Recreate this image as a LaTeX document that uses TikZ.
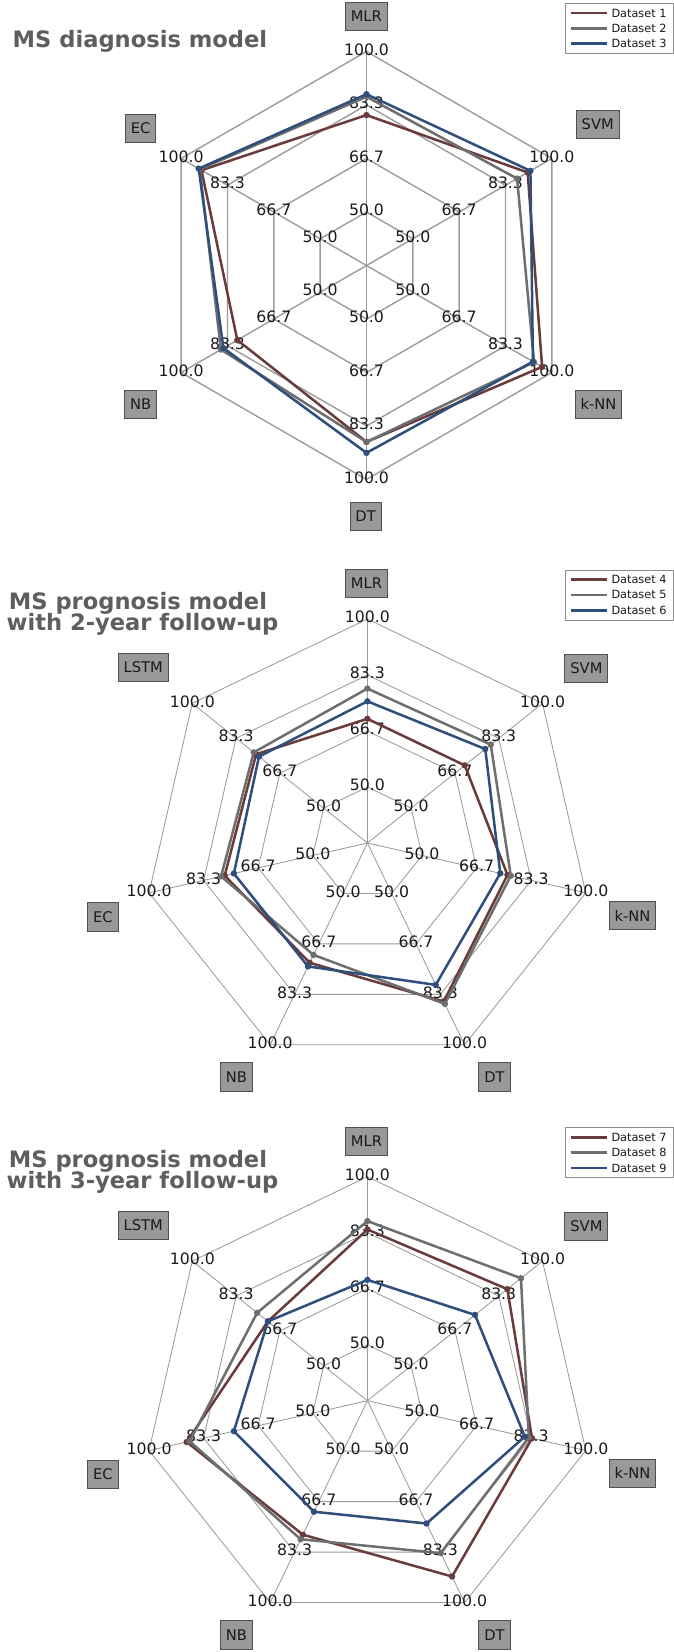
\documentclass[tikz,border=0pt]{standalone}
\usepackage{fontspec}
\setmainfont{DejaVu Sans}
\definecolor{serA}{HTML}{6B3A3A}
\definecolor{serB}{HTML}{6E6E6E}
\definecolor{serC}{HTML}{2E4E7C}
\definecolor{gridc}{HTML}{9C9C9C}
\definecolor{titlec}{HTML}{5E5E5E}
\definecolor{boxfill}{HTML}{999999}
\definecolor{boxdraw}{HTML}{505050}
\definecolor{txtc}{HTML}{1A1A1A}
\tikzset{
  gridA/.style={draw=gridc, line width=1.4pt},
  gridB/.style={draw=gridc, line width=0.85pt},
  vlab/.style={font=\fontsize{15.7}{16}\selectfont, text=txtc, inner sep=0pt, yshift=2pt},
  catbox/.style={draw=boxdraw, fill=boxfill, line width=0.9pt, font=\fontsize{14.7}{15}\selectfont, text=txtc, minimum height=28.3pt, inner xsep=5.5pt, inner ysep=0pt},
  ttl/.style={font=\fontsize{22.6}{23}\selectfont\bfseries, text=titlec, inner sep=0pt},
  legbox/.style={draw=gray!90, line width=0.9pt, fill=white, inner sep=0pt, anchor=north west, minimum width=108pt, minimum height=50pt},
  legtxt/.style={font=\fontsize{11.3}{12}\selectfont, text=txtc, inner sep=0pt, anchor=west},
  legline/.style={line width=2.7pt},
  serline/.style={line width=2.5pt, line join=round},
}
% #1 cx #2 cy #3 R #4 N #5 N-1 #6 style #7 prefix
\newcommand\radargrid[7]{%
  \coordinate (#7-o) at (#1,#2);
  \foreach \lev in {1,2,3,4}{
    \foreach \k in {0,...,#5}{
      \coordinate (#7-\k-\lev) at ({#1+#3*\lev/4*cos(90-\k*360/#4)},{#2-#3*\lev/4*sin(90-\k*360/#4)});
    }
    \draw[#6] (#7-0-\lev) \foreach \k in {1,...,#5}{ -- (#7-\k-\lev) } -- cycle;
  }
  \foreach \k in {0,...,#5}{ \draw[#6] (#7-o) -- (#7-\k-4); }
}
% #1 prefix #2 N-1
\newcommand\radarlabels[2]{%
  \foreach \lev/\txt in {1/50.0,2/66.7,3/83.3,4/100.0}{
    \foreach \k in {0,...,#2}{
      \node[vlab] (#1-l\k-\lev) at (#1-\k-\lev) {\txt};
    }
  }
}
% #1 cx #2 cy #3 R #4 N #5 N-1 #6 prefix #7 color #8 values
\newcommand\radarseries[8]{%
  \foreach \v [count=\k from 0] in {#8}{
    \coordinate (#6-\k) at ({#1+#3*(\v-33.333)/66.667*cos(90-\k*360/#4)},{#2-#3*(\v-33.333)/66.667*sin(90-\k*360/#4)});
  }
  \draw[serline, draw=#7] (#6-0) \foreach \k in {1,...,#5}{ -- (#6-\k) } -- cycle;
  \foreach \k in {0,...,#5}{ \fill[#7] (#6-\k) circle (3.2); }
}
% #1 top y #2 prefix #3 first dataset number
\newcommand\radarlegend[3]{%
  \node[legbox] (#2-box) at (565,#1) {};
  \foreach \i/\c in {0/serA,1/serB,2/serC}{
    \pgfmathtruncatemacro\num{#3+\i}
    \coordinate (#2-a\i) at (570.7,{#1+10+15.3*\i});
    \coordinate (#2-b\i) at (607.3,{#1+10+15.3*\i});
    \draw[legline, draw=\c] (#2-a\i) -- (#2-b\i);
    \node[legtxt] (#2-t\i) at (611.3,{#1+10+15.3*\i}) {Dataset \num};
  }
}
\begin{document}
\begin{tikzpicture}[x=1pt,y=-1pt]
\useasboundingbox (0,0) rectangle (674,1652);
\fill[white] (0,0) rectangle (674,1652);

% ---------- Chart 1 ----------
\radargrid{366.5}{265.5}{214}{6}{5}{gridA}{g1}
\radarlabels{g1}{5}
\radarseries{366.5}{265.5}{214}{6}{5}{s1}{serA}{80.2,91.3,96.5,88.3,79.8,92.7}
\radarseries{366.5}{265.5}{214}{6}{5}{s2}{serB}{85.9,87.5,93.6,88.3,85.7,93.3}
\radarseries{366.5}{265.5}{214}{6}{5}{s3}{serC}{86.7,92.3,93.2,91.7,84.8,93.7}
\node[catbox] (c1-mlr) at (366.3,16.5) {MLR};
\node[catbox] (c1-svm) at (597.7,124.6) {SVM};
\node[catbox] (c1-knn) at (598.4,404.3) {k-NN};
\node[catbox] (c1-dt) at (365.6,516.4) {DT};
\node[catbox] (c1-nb) at (140.6,404.3) {NB};
\node[catbox] (c1-ec) at (140.6,128.2) {EC};
\radarlegend{3}{L1}{1}
\node[ttl, anchor=base west] (t1) at (12.5,47.7) {MS diagnosis model};

% ---------- Chart 2 ----------
\radargrid{367.4}{843}{224}{7}{6}{gridB}{g2}
\radarlabels{g2}{6}
\radarseries{367.4}{843}{224}{7}{6}{s4}{serA}{70.3,70.4,76.1,85.7,72.9,76.9,75.7}
\radarseries{367.4}{843}{224}{7}{6}{s5}{serB}{79.3,80.3,77.1,86.5,70.3,78.0,76.6}
\radarseries{367.4}{843}{224}{7}{6}{s6}{serC}{75.5,78.2,73.9,80.2,74.1,74.1,74.6}
\node[catbox] (c2-mlr) at (366.5,583.3) {MLR};
\node[catbox] (c2-svm) at (586.4,668.5) {SVM};
\node[catbox] (c2-knn) at (632.5,915.5) {k-NN};
\node[catbox] (c2-dt) at (494.5,1077) {DT};
\node[catbox] (c2-nb) at (236.4,1077) {NB};
\node[catbox] (c2-ec) at (102.9,916.8) {EC};
\node[catbox] (c2-lstm) at (143.2,667.4) {LSTM};
\radarlegend{569.6}{L2}{4}
\node[ttl, anchor=base] (t2a) at (138,609.4) {MS prognosis model};
\node[ttl, anchor=base] (t2b) at (142.5,630.7) {with 2-year follow-up};

% ---------- Chart 3 ----------
\radargrid{367.4}{1400.7}{224}{7}{6}{gridB}{g3}
\radarlabels{g3}{6}
\radarseries{367.4}{1400.7}{224}{7}{6}{s7}{serA}{84.3,86.6,83.6,91.4,77.6,88.5,71.2}
\radarseries{367.4}{1400.7}{224}{7}{6}{s8}{serB}{86.8,91.8,82.6,83.7,79.1,87.6,75.3}
\radarseries{367.4}{1400.7}{224}{7}{6}{s9}{serC}{69.3,74.3,81.4,73.9,70.0,74.1,71.2}
\node[catbox] (c3-mlr) at (366.5,1141.3) {MLR};
\node[catbox] (c3-svm) at (586.4,1226.1) {SVM};
\node[catbox] (c3-knn) at (632.5,1473.2) {k-NN};
\node[catbox] (c3-dt) at (494.5,1635) {DT};
\node[catbox] (c3-nb) at (236.4,1635) {NB};
\node[catbox] (c3-ec) at (102.9,1474.6) {EC};
\node[catbox] (c3-lstm) at (143.2,1225.2) {LSTM};
\radarlegend{1127.4}{L3}{7}
\node[ttl, anchor=base] (t3a) at (138,1167.1) {MS prognosis model};
\node[ttl, anchor=base] (t3b) at (142.5,1188.4) {with 3-year follow-up};
\end{tikzpicture}
\end{document}
